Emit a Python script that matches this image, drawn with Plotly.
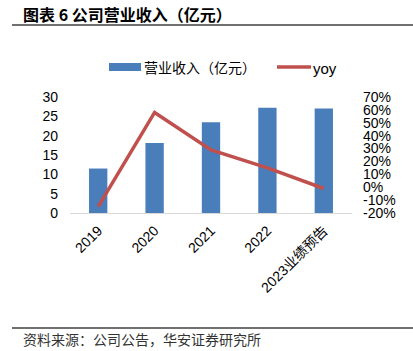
import plotly.graph_objects as go

categories = ["2019", "2020", "2021", "2022", "2023业绩预告"]
revenue = [11.5, 18.1, 23.5, 27.2, 27.0]
yoy = [-15, 58, 29, 15, -1]
left_ticks = [0, 5, 10, 15, 20, 25, 30]
right_ticks = [-20, -10, 0, 10, 20, 30, 40, 50, 60, 70]

FONT = "Liberation Sans, Arial, Noto Sans CJK SC, sans-serif"
CJK = "Noto Sans CJK SC, sans-serif"
BLUE = "#4A7EBB"
RED = "#C0504D"

fig = go.Figure()
fig.add_trace(go.Bar(
    x=categories, y=revenue, name="营业收入（亿元）",
    marker=dict(color=BLUE, line=dict(width=0)),
    width=0.325, yaxis="y", showlegend=False,
))
fig.add_trace(go.Scatter(
    x=categories, y=yoy, name="yoy", mode="lines",
    line=dict(color=RED, width=3.5), yaxis="y2", showlegend=False,
))

L, R, T, B = 70, 61, 97, 138
W, H = 413, 351
pw, ph = W - L - R, H - T - B

def px(x):
    return (x - L) / pw

def py(y):
    return (H - B - y) / ph

fig.update_layout(
    width=W, height=H,
    margin=dict(l=L, r=R, t=T, b=B),
    paper_bgcolor="white", plot_bgcolor="white",
    font=dict(family=FONT, size=14, color="#000000"),
    showlegend=False,
    xaxis=dict(
        type="category", tickangle=-45, showgrid=False,
        showline=True, linecolor="#D9D9D9", linewidth=1,
        ticks="", ticklabelstandoff=3, tickfont=dict(size=14, family=FONT),
    ),
    yaxis=dict(
        range=[0, 30], tickvals=left_ticks, showgrid=False, zeroline=False,
        showline=False, ticks="", ticklabelstandoff=11,
        tickfont=dict(size=14, family=FONT),
    ),
    yaxis2=dict(
        range=[-20, 70], tickvals=right_ticks,
        ticktext=[f"{v}%" for v in right_ticks],
        overlaying="y", side="right", showgrid=False, zeroline=False,
        showline=False, ticks="", ticklabelstandoff=10,
        tickfont=dict(size=14, family=FONT),
    ),
    shapes=[
        dict(type="line", xref="paper", yref="paper",
             x0=px(12), x1=px(413), y0=py(25), y1=py(25),
             line=dict(color="#404040", width=1.5)),
        dict(type="line", xref="paper", yref="paper",
             x0=px(12), x1=px(413), y0=py(328), y1=py(328),
             line=dict(color="#404040", width=1.5)),
        # legend symbols
        dict(type="rect", xref="paper", yref="paper",
             x0=px(109), x1=px(141), y0=py(63), y1=py(71),
             fillcolor=BLUE, line=dict(width=0)),
        dict(type="line", xref="paper", yref="paper",
             x0=px(277), x1=px(311), y0=py(67), y1=py(67),
             line=dict(color=RED, width=3.5)),
    ],
    annotations=[
        dict(text="<b>图表 6 公司营业收入（亿元）</b>", xref="paper", yref="paper",
             x=px(21), y=py(14), xanchor="left", yanchor="middle", showarrow=False,
             font=dict(family=CJK, size=16, color="#000")),
        dict(text="资料来源：公司公告，华安证券研究所", xref="paper", yref="paper",
             x=px(21), y=py(339), xanchor="left", yanchor="middle", showarrow=False,
             font=dict(family=CJK, size=14, color="#333")),
        dict(text="营业收入（亿元）", xref="paper", yref="paper",
             x=px(142), y=py(67), xanchor="left", yanchor="middle", showarrow=False,
             font=dict(family=CJK, size=14, color="#000")),
        dict(text="yoy", xref="paper", yref="paper",
             x=px(311), y=py(68), xanchor="left", yanchor="middle", showarrow=False,
             font=dict(family=FONT, size=15, color="#000")),
    ],
)

fig.write_html("out.html")
